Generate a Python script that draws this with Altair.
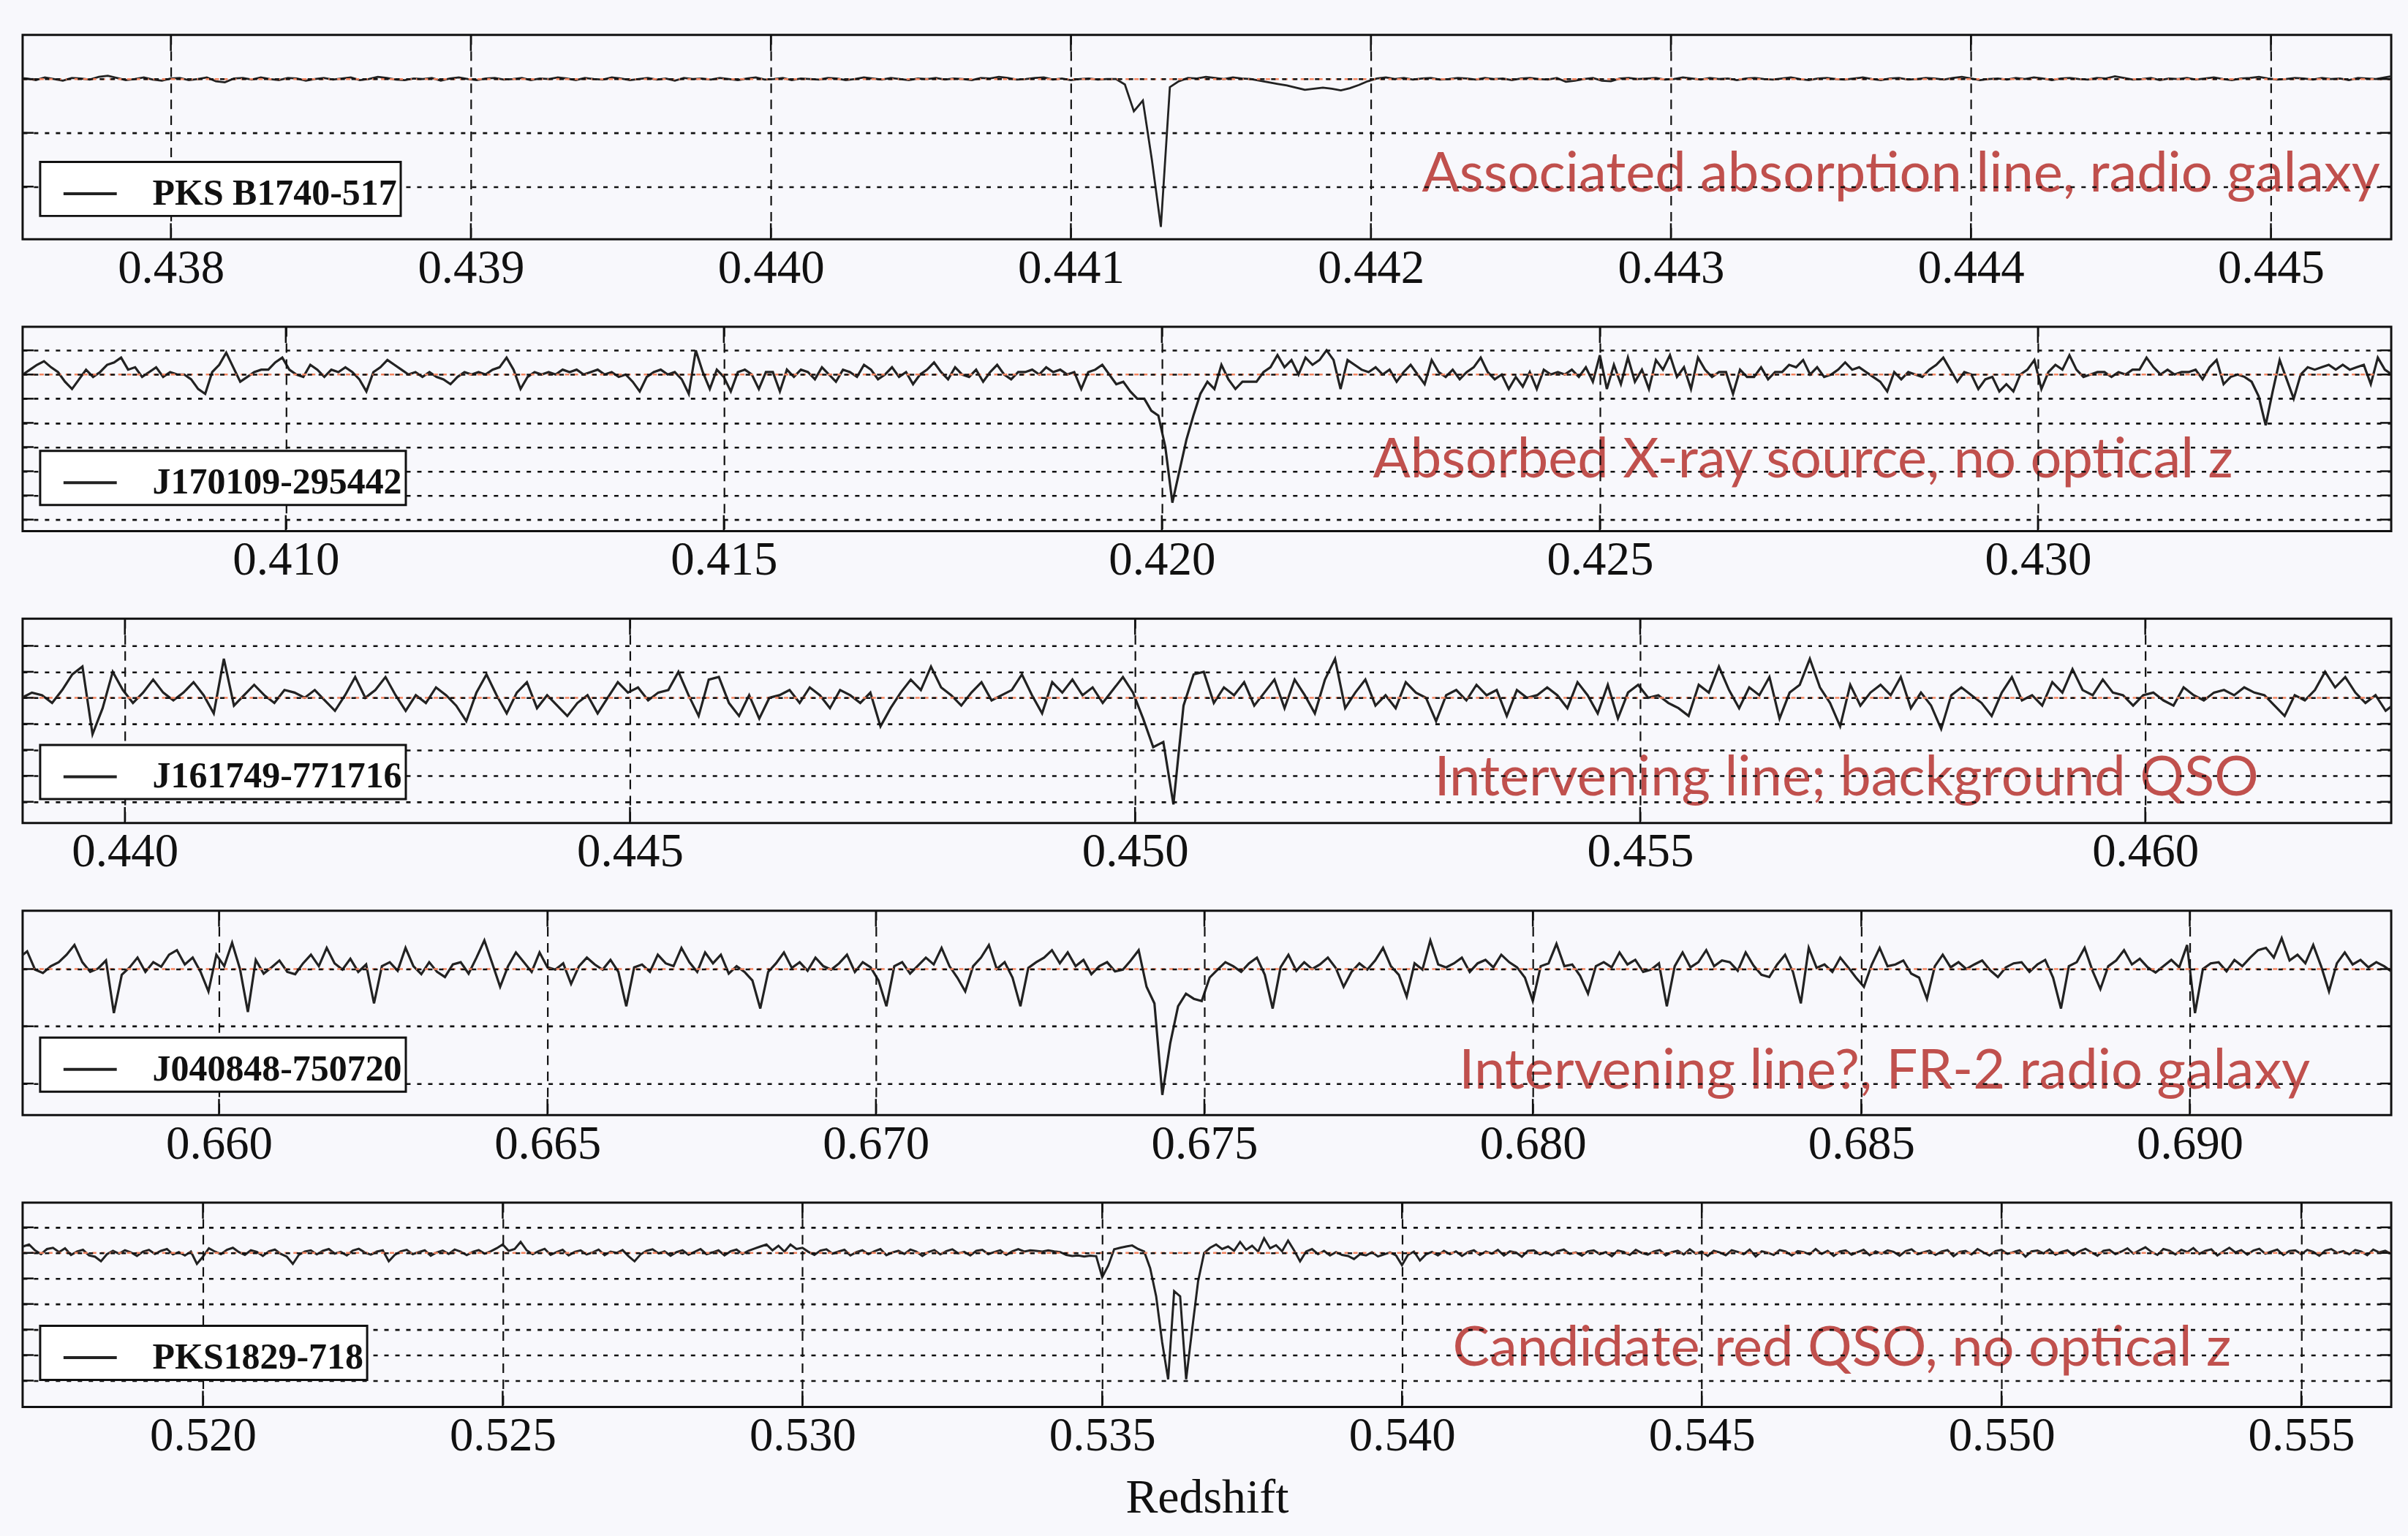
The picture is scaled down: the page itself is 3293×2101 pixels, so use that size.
import altair as alt
import pandas as pd

# ---------------- data ----------------
source_names = ["PKS B1740-517", "J170109-295442", "J161749-771716",
                "J040848-750720", "PKS1829-718"]
notes = ["Associated absorption line, radio galaxy",
         "Absorbed X-ray source, no optical z",
         "Intervening line; background QSO",
         "Intervening line?, FR-2 radio galaxy",
         "Candidate red QSO, no optical z"]

# spectral channel grid of each spectrum (first redshift, channel width)
z_first = [0.43749, 0.40700, 0.43898, 0.65696, 0.51700]
z_step = [0.00003, 0.00008, 0.00010, 0.00012, 0.00010]

# flux relative to continuum (arbitrary units, 10 units per grid step)
flux_pks1740 = [0.2,
    0.1, -0.2, 0.3, 0.0, -0.3, 0.2, 0.1, -0.1, 0.4, 0.6, 0.2, -0.2, 0.0, 0.3, -0.1, -0.3, 0.1, 0.2, -0.2, 0.0,
    0.3, -0.4, -0.6, 0.1, 0.2, -0.1, 0.3, 0.0, -0.2, 0.2, 0.1, -0.3, 0.0, 0.2, -0.1, 0.1, 0.3, -0.2, 0.0, 0.4,
    0.2, -0.1, -0.2, 0.1, 0.0, 0.2, -0.3, 0.1, 0.3, 0.0, -0.2, 0.1, 0.2, -0.1, 0.0, 0.2, -0.2, 0.1, 0.0, 0.3,
    0.1, -0.2, 0.2, 0.0, -0.1, 0.3, 0.1, -0.2, 0.0, 0.2, -0.1, 0.1, -0.3, 0.2, 0.0, 0.1, -0.1, 0.2, 0.0, -0.2,
    0.1, 0.3, -0.1, 0.0, 0.2, -0.2, 0.1, 0.0, -0.1, 0.2, 0.1, -0.2, 0.0, 0.3, 0.1, -0.1, 0.2, 0.0, -0.2, 0.1,
    0.0, 0.2, -0.1, 0.1, 0.0, -0.2, 0.2, 0.1, 0.4, 0.2, -0.1, 0.0, 0.2, 0.3, -0.1, 0.1, -0.2, 0.0, 0.1, -0.1,
    0.0, 0.0, -1.0, -6.0, -4.0, -15.0, -27.5, -1.5, -0.4, 0.2, 0.1, 0.4, 0.2, 0.0, 0.3, 0.1, 0.0, -0.3, -0.6, -0.9,
    -1.2, -1.6, -2.0, -1.8, -1.6, -1.8, -2.1, -1.7, -1.1, -0.4, 0.1, 0.3, 0.0, 0.2, -0.1, 0.1, 0.2, -0.1, 0.0, 0.2,
    0.1, -0.1, 0.2, 0.0, 0.1, -0.2, 0.1, 0.2, 0.0, -0.1, 0.2, -0.5, -0.3, 0.0, 0.2, -0.3, -0.4, 0.1, 0.2, 0.0,
    0.1, 0.2, -0.1, 0.0, 0.3, 0.1, -0.1, 0.2, 0.0, 0.1, -0.2, 0.1, 0.2, 0.0, -0.1, 0.1, 0.3, 0.0, -0.2, 0.1,
    0.2, 0.0, -0.1, 0.1, 0.3, 0.0, -0.2, 0.1, 0.2, -0.1, 0.0, 0.2, 0.1, -0.1, 0.2, 0.4, 0.1, -0.2, 0.0, 0.1,
    -0.1, 0.2, 0.0, 0.3, 0.1, -0.2, 0.1, 0.2, 0.0, -0.1, 0.2, 0.1, 0.5, 0.2, -0.1, 0.0, 0.2, -0.2, 0.1, 0.0,
    0.2, -0.1, 0.1, 0.3, 0.0, -0.2, 0.1, 0.2, 0.4, 0.1, -0.1, 0.0, 0.2, 0.1, -0.1, 0.2, 0.0, 0.1, -0.2, 0.2,
    0.1, 0.0, 0.3, 0.6]

flux_j1701 = [
    0, 2, 4, 5.5, 3, 1, -3, -6, -2, 2,
    -1, 1, 4, 5, 7, 2, 3, -1, 1, 3,
    -1, 1, 0, 0, -2, -6, -8, 1, 4, 9,
    3, -3, -1, 1, 2, 2, 5, 7, 2, 0,
    -1, 4, 2, -1, 2, 1, 3, 1, -2, -7,
    1, 3, 6, 4, 2, 0, 1, -1, 1, -1,
    -2, -4, -1, 1, 0, 1, 0, 2, 3, 7,
    2, -6, -1, 1, 0, 1, 0, 2, 1, 2,
    0, 1, 2, 0, 1, -1, 0, -3, -7, -1,
    1, 2, 0, 1, -2, -8, 10, 1, -6, 2,
    -1, -7, 1, 2, 0, -6, 1, 1, -7, 2,
    -1, 2, 1, -2, 3, 0, -3, 2, 1, -1,
    4, 2, -2, 0, 3, -1, 1, -4, 0, 2,
    5, 1, -2, 3, 0, -1, 2, -3, 1, 4,
    0, -2, 1,
    1, 2, 0, 3, 1, 2, 0, 1, -6, 1,
    2, 4, 0, -4, -3, -7, -10, -10, -15, -17,
    -30, -53, -40, -27, -17, -8, -3, -6, 4, -2,
    -6, -3, -3, -3, 1, 3, 8, 3, 6, 0,
    7, 4, 6, 10, 6, -6, 6, 4, 2, 1,
    3, 0, 2, -3, 1, 4, 0, -4, 6, 1,
    -1, 2, -2, 1, 3, 7, 1, -2, 0, -6,
    -1, -5, 1, -6, 2, 0, 1, 0, 2, -1,
    3, -3, 8, -6, 4, -4, 7, -3, 2, -6,
    6, 2, 8, -1, 3, -6, 7, 2, -1, 1,
    1, -8, 2, -1, -1, 3, -2, 1, 1, 4,
    3, 6, 0, 3, -1, 0, 2, 5, 2, 3,
    1, -1, -3, -7, 1, -2, 1, 0, -1, 2,
    4, 7, 2, -3, 1, 0, -6, -2, -1, -7,
    -4, -7, 0, 2, 6, -6, 1, 4, 2, 8,
    2, -1, 0, 1, 1, -1, 1, 0, 2, 2,
    7, 3, 0, 2, 0, 1, 1, 2, -2, 3,
    6, -4, -1, 0, -1, -3, -9, -21, -7, 6,
    -2, -10, 0, 3, 2, 3, 4, 2, 4, 2,
    3, 4, -4, 7, 2, 0]

flux_j1617 = [
    0, 2, 1, -2, 3, 9, 12, -14, -4, 10,
    3, -2, 2, 7, 2, -1, 2, 6, 1, -6,
    15, -3, 1, 5, 1, -2, 3, 2, 0, 3,
    -1, -5, 1, 8, 0, 3, 8, 1, -5, 1,
    -2, 4, 1, -3, -9, 2, 9, 1, -6, 2,
    6, -4, 1, -3, -7, -2, 1, -6, 0, 6,
    2, 4, -1, 2, 3, 10, 1, -7, 7, 8,
    -2, -7, 1, -8, 0, 1, 3, -2, 4, 1,
    -4, 3, 1, -2, 2, -11, -4, 2, 7, 3,
    12, 4, 1, -3, 2, 6, -1, 1, 3, 9,
    1, -6, 6, 2, 7, 1, 4, -2, 3, 8,
    2, -8, -19, -17, -41, -3, 9, 10, -2, 4,
    1, 6, -3, 2, 7, -4, 7, 1, -6, 7,
    15, -4, 2, 7, -3, 1, -4, 6, 2, 0,
    -9, 1, 3, -1, 5, 1, 3, -7, 3, 0,
    1, 4, 1, -4, 6, 1, -6, 5, -8, 2,
    5, 0, 1, -2, -4, -7, 5, 2, 12, 3,
    -4, 4, 1, 8, -8, 2, 5, 15, 4, -2,
    -11, 5, -3, 2, 5, 1, 8, -4, 2, -3,
    -12, 1, 4, 1, -2, -7, 2, 8, -1, 1,
    -3, 6, 2, 11, 3, 1, 7, 2, 1, -3,
    1, 2, -1, -3, 4, 1, -1, 2, 3, 1,
    4, 2, 1, -3, -7, 1, -1, 3, 10, 4,
    8, 2, -2, 1, -5, -2]

flux_j0408 = [
    2.0, 3.1, -0.1, -0.7, 0.5, 1.2, 2.5, 4.2, 1.2, -0.5,
    0.1, 1.5, -7.7, -1.0, 0.3, 2.0, -0.5, 1.2, 0.4, 2.5,
    3.3, 0.8, 2.0, -0.5, -3.9, 2.5, 0.5, 4.6, 0.0, -7.5,
    1.6, -0.8, 0.3, 1.5, -0.5, -0.9, 1.0, 2.5, 0.5, 3.7,
    1.0, -0.1, 1.8, -0.5, 0.8, -6.0, 0.5, 1.2, -0.3, 3.7,
    0.5, -0.9, 1.2, -0.5, -1.4, 0.8, 1.2, -0.8, 2.0, 5.0,
    1.0, -3.1, 0.5, 2.9, 1.2, -0.5, 2.9, 0.3, -0.1, 1.0,
    -2.6, 0.5, 2.0, 0.8, -0.1, 1.6, -0.5, -6.5, 0.3, 0.8,
    -0.5, 2.5, 1.0, 0.5, 3.7, 1.2, -0.5, 2.9, 1.0, 2.5,
    -0.8, 0.5, -0.5, -2.0, -6.9, -0.5, 1.0, 2.9, 0.2, 1.2,
    -0.3, 2.0, 0.5, -0.1, 1.0, 2.5, -0.5, 1.2, 0.3, -2.0,
    -6.5, 0.5, 1.2, -0.8, 0.6, 2.0, 0.8, 3.7, 0.5, -1.5,
    -3.9, 0.5, 2.0, 4.2, 0.0, 1.2, -1.5, -6.5, 0.2, 1.2,
    2.0, 3.3, 1.0, 2.9, 0.5, 1.6, -0.9, 0.5, 1.2, -0.4,
    -0.1, 1.5, 3.3, -3.1, -6.0, -22.0, -13.0, -6.5, -4.3, -5.2,
    -5.6, -1.5, -0.1, 1.2, 0.5, -0.5, 1.0, 2.0, -1.0, -6.9,
    0.3, 2.5, -0.3, 1.2, 0.0, 0.8, 2.0, 0.2, -3.1, -0.5,
    1.0, -0.1, 1.5, 3.7, 0.5, -1.0, -4.8, 1.0, -0.1, 5.0,
    0.8, 0.3, 1.0, 2.0, -0.5, 1.0, 1.6, 0.3, 2.5, 1.2,
    0.3, -1.5, -5.6, 0.5, 1.0, 4.4, 0.5, 0.8, -1.2, -4.3,
    0.5, 1.2, 0.3, 2.9, 0.8, 1.6, -0.5, -0.1, 1.0, -6.5,
    0.5, 2.9, 0.3, 1.2, 3.3, 0.5, 1.5, 1.2, -0.3, 2.9,
    0.6, -1.0, -1.4, 0.8, 2.5, -0.5, -6.0, 3.7, 0.2, 0.8,
    -0.5, 2.0, 0.3, -1.5, -3.1, 0.8, 3.7, 0.5, 0.8, 1.5,
    -0.8, -1.5, -5.2, 0.5, 2.5, 0.3, 1.2, 0.0, 0.8, 1.5,
    -0.2, -1.4, 0.3, 1.0, 1.2, -0.5, 0.8, 1.6, -1.5, -6.9,
    0.5, 1.2, 3.7, -0.3, -3.5, 0.5, 1.5, 3.3, 0.8, 1.8,
    0.3, -0.6, 0.5, 1.6, 0.3, 4.2, -7.7, 0.0, 1.0, 1.2,
    -0.4, 1.6, 0.5, 2.0, 3.3, 3.7, 2.0, 5.4, 1.5, 2.5,
    1.0, 4.2, 0.5, -3.9, 1.0, 2.9, 0.8, 1.6, 0.3, 1.2,
    0.5, -0.5]

flux_pks1829 = [
    2.5, 3.3, 1.0, -0.5, 1.5, 2.0, 0.3, 1.8, -0.8, 0.5, 1.2, -1.0, -1.5, -3.3, -0.5, 0.8, -0.3, 1.0, 0.2, -1.2,
    0.5, 1.2, -0.4, 0.8, 1.5, -0.6, 0.3, -1.0, 0.5, -4.3, -1.5, 1.8, 0.5, -0.5, 1.2, 2.0, 0.3, -0.8, 1.0, 0.4,
    -1.2, 0.6, 1.3, -0.4, -1.5, -4.3, -0.8, 0.5, 1.0, -0.6, 0.8, 1.5, -0.3, 0.4, -1.0, 0.9, 1.6, 0.2, -0.7, 0.5,
    1.0, -3.3, -0.8, 0.6, 1.2, -0.5, 0.3, 1.0, -1.1, 0.2, 0.9, -0.4, 1.3, 0.5, -0.9, 0.4, 1.1, -0.3, 0.6, 1.8,
    3.3, 0.8, 1.5, 4.3, 1.0, -0.5, 0.7, 1.6, -0.8, 0.3, 1.2, -1.0, 0.4, 1.0, -0.6, 0.2, 1.3, -0.9, 0.5, 0.0,
    1.1, -1.3, -3.3, -0.6, 0.8, 1.4, -0.2, 0.6, -1.1, 0.3, 1.0, -0.7, 0.4, 1.5, -0.5, 0.2, 1.0, -1.0, 0.6, 1.3,
    -0.4, 0.8, 1.7, 2.5, 3.3, 1.0, 2.8, 0.5, 3.3, 1.5, 2.0, 0.4, -0.8, 0.9, 1.4, -0.3, 0.5, 1.2, -1.0, 0.3,
    1.0, -0.5, 0.6, 1.5, -0.9, 0.2, 0.8, -0.4, 1.3, 0.5, -1.2, 0.3, 1.1, -0.6, 0.7, 1.4, -0.2, 0.4, -1.0, 0.8,
    1.2, -0.5, 0.3, 1.0, -0.8, 0.6, 1.5, 0.5, 1.0, 0.8, 0.5, 1.0, 0.6, 0.3, -0.8, -1.2, -1.0, -1.4, -1.1, -1.3,
    -9.5, -5.0, 1.4, 2.0, 2.5, 2.9, 1.5, 0.5, -6.0, -17.0, -35.0, -49.5, -15.0, -17.0, -49.5, -30.0, -11.0, 0.0, 2.0, 3.3,
    1.5, 2.5, 0.8, 4.3, 1.2, 2.8, 0.5, 5.7, 1.8, 3.0, 0.6, 4.8, 1.0, -3.3, 0.5, 1.5, -0.5, 0.8, -1.0, 0.3,
    -0.8, -1.2, -2.4, -0.5, -1.0, 0.3, -1.4, -0.6, 0.2, -1.0, -4.8, -0.8, 0.5, -3.0, -0.6, 0.4, -1.0, 0.8, -0.5, 0.6,
    -1.2, 0.3, 1.0, -0.8, 0.5, -0.3, 1.2, -1.0, 0.6, 0.2, -1.5, 0.8, 1.0, -0.6, 0.4, -0.9, 0.7, 1.3, -0.4, 0.2,
    -1.1, 0.6, 1.0, -0.5, 0.3, -1.3, 0.9, 0.4, -0.8, 1.2, 0.0, -0.7, 0.5, 1.1, -1.0, 0.3, 0.8, -0.6, 1.4, -0.3,
    0.5, -1.2, 0.8, 0.2, -0.9, 1.0, 0.4, -0.5, 1.3, -1.4, 0.6, 0.1, -0.8, 1.1, 0.5, -1.0, 0.7, 0.3, -0.6, 1.5,
    -0.4, 0.8, -1.2, 0.5, 1.0, -0.7, 0.3, 1.2, -0.9, 0.6, -0.3, 1.0, 0.4, -1.1, 0.7, 1.4, -0.5, 0.2, 0.9, -0.8,
    0.5, 1.1, -1.3, 0.4, 0.8, -0.6, 1.5, 0.2, -1.0, 0.7, 1.2, -0.4, 0.3, 1.0, -1.5, 0.6, 0.9, -0.2, 1.3, -0.7,
    0.4, 1.0, -0.9, 0.6, 1.6, 0.2, -1.1, 0.8, 1.2, -0.5, 0.5, 1.8, -0.3, 1.0, 2.2, 0.4, -0.8, 1.5, 0.9, -0.6,
    1.2, 0.3, 1.9, -0.4, 0.8, 1.4, -1.0, 0.6, 2.0, 0.2, 1.1, -0.7, 0.9, 1.6, -0.3, 0.5, 1.3, -0.8, 0.7, 1.0,
    -0.5, 1.2, 0.4, -1.1, 0.9, 1.5, 0.0, 0.7, -0.6, 1.1, 0.5, -0.9, 1.3, 0.2, 0.8, -0.4, 1.0]

spectra = [flux_pks1740, flux_j1701, flux_j1617, flux_j0408, flux_pks1829]

x_lo = [0.437506, 0.406996, 0.438988, 0.657011, 0.516993]
x_hi = [0.445401, 0.434033, 0.462435, 0.693067, 0.556500]
x_ticks = [
    [0.438, 0.439, 0.440, 0.441, 0.442, 0.443, 0.444, 0.445],
    [0.410, 0.415, 0.420, 0.425, 0.430],
    [0.440, 0.445, 0.450, 0.455, 0.460],
    [0.660, 0.665, 0.670, 0.675, 0.680, 0.685, 0.690],
    [0.520, 0.525, 0.530, 0.535, 0.540, 0.545, 0.550, 0.555],
]
y_lo = [-29.8, -64.8, -48.2, -25.5, -60.3]
y_hi = [8.2, 19.7, 30.4, 10.2, 19.7]
y_grid = [
    [-20, -10, 0],
    [-60, -50, -40, -30, -20, -10, 0, 10],
    [-40, -30, -20, -10, 0, 10, 20],
    [-20, -10, 0],
    [-50, -40, -30, -20, -10, 0, 10],
]
continuum_level = [0, 0, 0, 0, 0]

# ---------------- style / layout ----------------
W, H = 3245, 280
BG = "#f8f8fc"
INK = "#111111"
LINE = "#222222"
RED = "#c0504d"
CONT = "#f4845f"
SERIF = "Liberation Serif"
note_x = [1917, 1850, 1934, 1968, 1959]
note_y = [215, 206, 242, 244, 223]
legend_y = [174, 170, 173, 174, 169]
line_w = [2.8, 3.2, 3.2, 3.2, 3.0]


def panel(i, last):
    xs = alt.Scale(domain=[x_lo[i], x_hi[i]], nice=False, zero=False)
    ys = alt.Scale(domain=[y_lo[i], y_hi[i]], nice=False, zero=False)
    flux = spectra[i]
    df = pd.DataFrame({
        "z": [z_first[i] + k * z_step[i] for k in range(len(flux))],
        "flux": flux,
        "source": [source_names[i]] * len(flux),
    })
    xkw = dict(values=x_ticks[i], format=".3f", grid=True, gridColor=INK,
               gridDash=[13, 9], gridWidth=2.2, ticks=False, tickSize=0,
               domain=False, labelFont=SERIF, labelFontSize=65,
               labelColor=INK, labelPadding=8, labelFlush=False,
               labelOverlap=False, zindex=1)
    if last:
        xkw.update(title="Redshift", titleFont=SERIF, titleFontSize=66,
                   titleFontWeight="normal", titleColor=INK, titlePadding=20)
    else:
        xkw.update(title=None)
    xaxis = alt.Axis(**xkw)
    yaxis = alt.Axis(values=y_grid[i], labels=False, ticks=False, tickSize=0,
                     domain=False, grid=True, gridColor=INK, gridDash=[6, 9],
                     gridWidth=2.6, title=None, zindex=1)

    cont = alt.Chart(pd.DataFrame({"c": [continuum_level[i]]})).mark_rule(
        color=CONT, strokeWidth=2.5, strokeDash=[6, 6]
    ).encode(y=alt.Y("c:Q", scale=ys, axis=yaxis))

    note = alt.Chart(pd.DataFrame({"note": [notes[i]]})).mark_text(
        font="Lato", fontSize=76, color=RED, align="left", baseline="alphabetic"
    ).encode(x=alt.value(note_x[i]), y=alt.value(note_y[i]), text="note:N")

    spec = alt.Chart(df).mark_line(strokeWidth=line_w[i], clip=True).encode(
        x=alt.X("z:Q", scale=xs, axis=xaxis),
        y=alt.Y("flux:Q", scale=ys, axis=yaxis),
        color=alt.Color("source:N",
                        scale=alt.Scale(domain=[source_names[i]], range=[LINE]),
                        legend=alt.Legend(
                            title=None, orient="none", legendX=24,
                            legendY=legend_y[i],
                            fillColor="white", strokeColor=INK, padding=5,
                            symbolType="stroke", symbolSize=5329,
                            symbolStrokeWidth=4, symbolOffset=25,
                            labelFont=SERIF, labelFontSize=50,
                            labelFontWeight="bold", labelColor=INK,
                            labelOffset=47, labelLimit=900, zindex=2)),
    )

    tdf = pd.DataFrame({"t": x_ticks[i]})
    top_t = alt.Chart(tdf).mark_rule(color=INK, strokeWidth=2.5).encode(
        x=alt.X("t:Q", scale=xs, axis=xaxis), y=alt.value(0), y2=alt.value(22))
    bot_t = alt.Chart(tdf).mark_rule(color=INK, strokeWidth=2.5).encode(
        x=alt.X("t:Q", scale=xs, axis=xaxis), y=alt.value(H - 22), y2=alt.value(H))
    gdf = pd.DataFrame({"g": y_grid[i]})
    left_t = alt.Chart(gdf).mark_rule(color=INK, strokeWidth=2.5).encode(
        y=alt.Y("g:Q", scale=ys, axis=yaxis), x=alt.value(0), x2=alt.value(15))
    right_t = alt.Chart(gdf).mark_rule(color=INK, strokeWidth=2.5).encode(
        y=alt.Y("g:Q", scale=ys, axis=yaxis), x=alt.value(W - 15), x2=alt.value(W))

    return alt.layer(spec, cont, note, top_t, bot_t, left_t, right_t).properties(
        width=W, height=H)


panels = [panel(i, i == 4) for i in range(5)]

chart = alt.vconcat(*panels, spacing=120, bounds="flush").resolve_scale(
    color="independent"
).properties(
    background=BG,
    padding={"left": 28, "top": 43, "right": 20, "bottom": 16},
).configure_view(
    stroke=INK, strokeWidth=3
).configure_legend(
    strokeWidth=3
)

chart.save("out.html", embed_options={"renderer": "svg", "actions": False})
